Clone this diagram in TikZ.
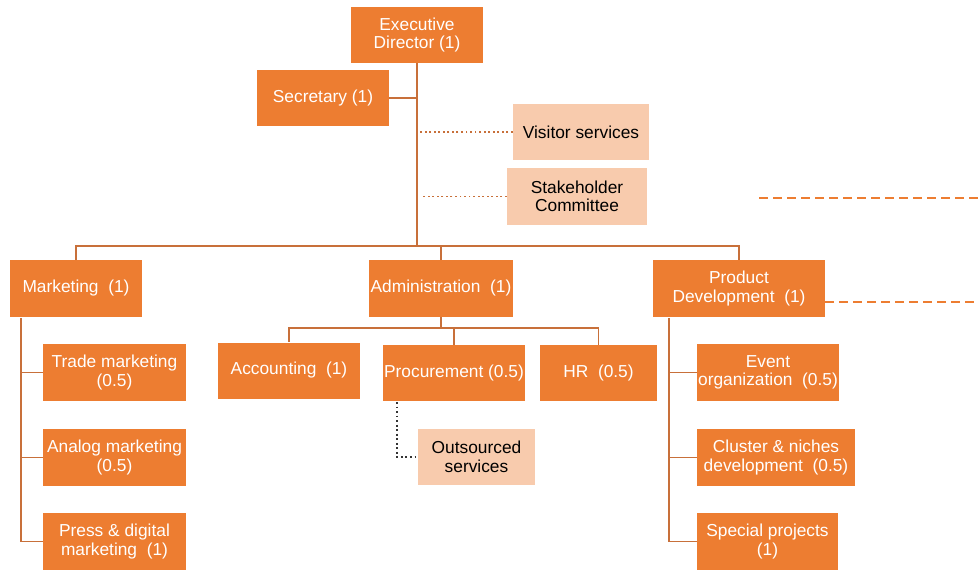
\documentclass[tikz,border=0pt]{standalone}
\usepackage{fontspec}
\setmainfont{Liberation Sans}
\definecolor{org}{HTML}{ED7D31}
\definecolor{lorg}{HTML}{F8CBAD}
\definecolor{lineC}{HTML}{C8703A}
\begin{document}
\begin{tikzpicture}[x=0.75pt,y=-0.75pt,
  every node/.style={font=\fontsize{13}{13.8}\selectfont, align=center, inner sep=0pt},
  obox/.style 2 args={fill=org, text=white, minimum width=#1*0.75pt, minimum height=#2*0.75pt},
  lbox/.style 2 args={fill=lorg, text=black, minimum width=#1*0.75pt, minimum height=#2*0.75pt},
  conn/.style={draw=lineC, line width=1.4pt},
  dotconn/.style={draw=lineC, line width=1.4pt, dotted},
  blkdot/.style={draw=black!80, line width=1.4pt, dotted},
  dashconn/.style={draw=org, line width=1.4pt, dash pattern=on 7pt off 3.5pt}]
\useasboundingbox (0,0) rectangle (978,570);

% top level
\node[obox={132}{56}] (ed) at (417,35) {Executive\\Director (1)};
\node[obox={132}{56}] (sec) at (323,98) {Secretary (1)};
\node[lbox={136}{56}] (vis) at (581,132) {Visitor services};
\node[lbox={140}{57}] (stk) at (577,196.5) {Stakeholder\\Committee};

% departments
\node[obox={132}{57}] (mkt) at (76,288.5) {Marketing\ \ (1)};
\node[obox={144}{57}] (adm) at (441,288.5) {Administration\ \ (1)};
\node[obox={172}{57}] (pd) at (739,288.5) {Product\\Development\ \ (1)};

% marketing children
\node[obox={143}{57}] (trade) at (114.5,372.5) {Trade marketing\\(0.5)};
\node[obox={143}{57}] (analog) at (114.5,457.5) {Analog marketing\\(0.5)};
\node[obox={143}{57}] (press) at (114.5,541.5) {Press \& digital\\marketing\ \ (1)};

% administration children
\node[obox={142}{56}] (acc) at (289,370.5) {Accounting\ \ (1)};
\node[obox={142}{56}] (proc) at (454,373) {Procurement (0.5)};
\node[obox={117}{56}] (hr) at (598.5,373) {HR\ \ (0.5)};
\node[lbox={117}{56}] (out) at (476.5,457) {Outsourced\\services};

% product development children
\node[obox={142}{57}] (event) at (768,372.5) {Event\\organization\ \ (0.5)};
\node[obox={158}{57}] (clus) at (776,457.5) {Cluster \& niches\\development\ \ (0.5)};
\node[obox={141}{57}] (spec) at (767.5,541.5) {Special projects\\(1)};

% coordinates
\coordinate (j) at (417,246);
\coordinate (aj) at (441,328);
\coordinate (mtop) at (21,318);
\coordinate (ptop) at (669,318);
\coordinate (pbot) at (397,402);
\coordinate (d1s) at (825,302);
\coordinate (d1e) at (978,302);
\coordinate (d2s) at (759,198);
\coordinate (d2e) at (978,198);

% connectors top
\draw[conn] (ed.south) -- (j);
\draw[conn] (sec.east) -- (sec.east -| ed.south);
\draw[dotconn] (vis.west) -- ([xshift=1.5pt]vis.west -| ed.south);
\draw[dotconn] (stk.west) -- ([xshift=3pt]stk.west -| ed.south);
\draw[conn] (mkt.north) -- (mkt.north |- j) -- (pd.north |- j) -- (pd.north);
\draw[conn] (adm.north) -- (adm.north |- j);

% admin
\draw[conn] (adm.south) -- (aj);
\draw[conn] (acc.north) -- (acc.north |- aj) -- (hr.north |- aj) -- (hr.north);
\draw[conn] (proc.north) -- (proc.north |- aj);
\draw[blkdot] (pbot) |- (out.west);

% marketing
\draw[conn] (mtop) |- (press.west);
\draw[conn] (trade.west) -- (trade.west -| mtop);
\draw[conn] (analog.west) -- (analog.west -| mtop);

% product dev
\draw[conn] (ptop) |- (spec.west);
\draw[conn] (event.west) -- (event.west -| ptop);
\draw[conn] (clus.west) -- (clus.west -| ptop);

% dashed
\draw[dashconn] (d1s) -- (d1e);
\draw[dashconn] (d2s) -- (d2e);
\end{tikzpicture}
\end{document}
